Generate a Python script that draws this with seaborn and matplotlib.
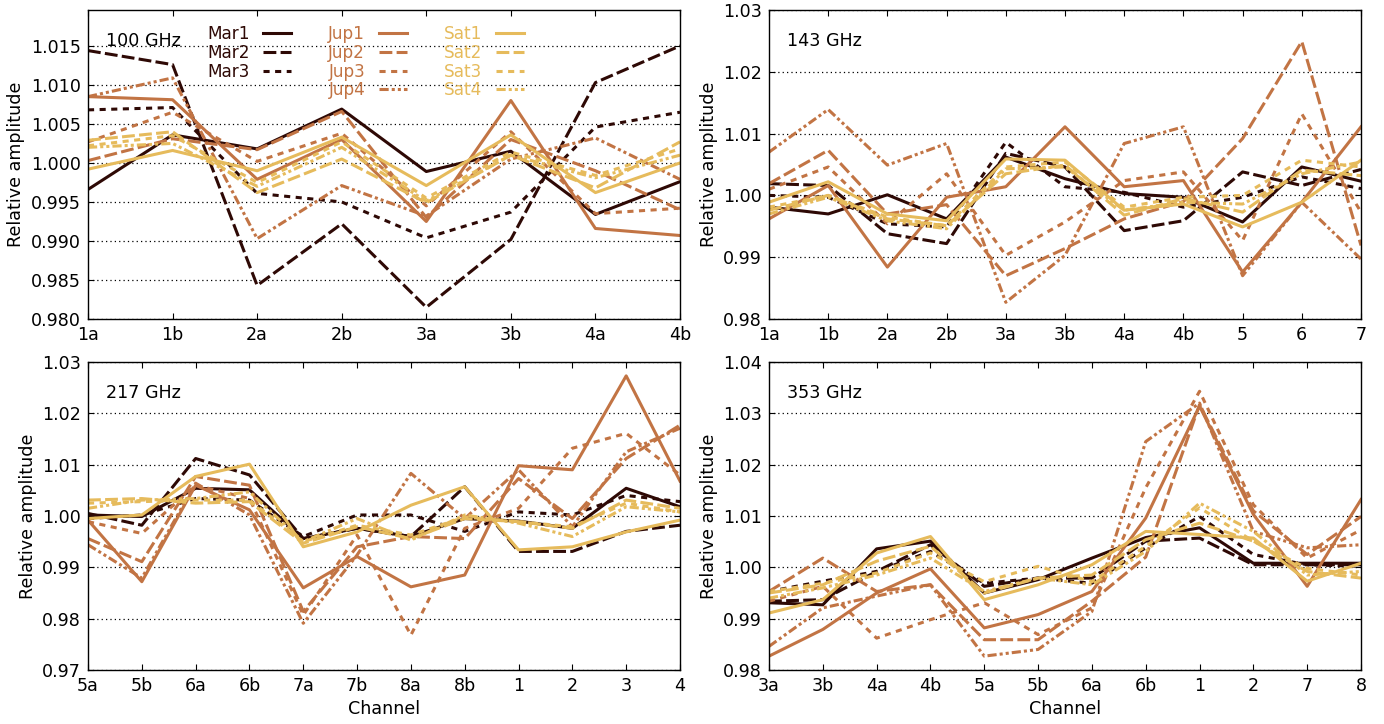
import matplotlib
matplotlib.use("Agg")
import matplotlib.pyplot as plt
from matplotlib.lines import Line2D
import seaborn as sns
import pandas as pd

# ---------------- data ----------------
series_names = ["Mar1", "Mar2", "Mar3", "Jup1", "Jup2", "Jup3", "Jup4",
                "Sat1", "Sat2", "Sat3", "Sat4"]

ch_100 = ["1a", "1b", "2a", "2b", "3a", "3b", "4a", "4b"]
mar1_100 = [0.9966, 1.0036, 1.0018, 1.0069, 0.9989, 1.0015, 0.9934, 0.9976]
mar2_100 = [1.0144, 1.0126, 0.9843, 0.9922, 0.9815, 0.9902, 1.0103, 1.0150]
mar3_100 = [1.0068, 1.0071, 0.9961, 0.9950, 0.9904, 0.9937, 1.0046, 1.0065]
jup1_100 = [1.0085, 1.0081, 0.9979, 1.0030, 0.9925, 1.0080, 0.9916, 0.9907]
jup2_100 = [1.0003, 1.0031, 1.0017, 1.0066, 0.9930, 1.0030, 0.9990, 0.9940]
jup3_100 = [1.0027, 1.0065, 1.0002, 1.0038, 0.9945, 1.0040, 0.9935, 0.9942]
jup4_100 = [1.0085, 1.0109, 0.9903, 0.9971, 0.9932, 1.0005, 1.0032, 0.9979]
sat1_100 = [0.9992, 1.0016, 0.9990, 1.0033, 0.9971, 1.0036, 0.9962, 1.0000]
sat2_100 = [1.0029, 1.0040, 0.9962, 1.0005, 0.9949, 1.0010, 0.9968, 1.0027]
sat3_100 = [1.0022, 1.0035, 0.9975, 1.0027, 0.9955, 1.0014, 0.9984, 1.0018]
sat4_100 = [1.0020, 1.0025, 0.9970, 1.0020, 0.9951, 1.0010, 0.9981, 1.0010]

ch_143 = ["1a", "1b", "2a", "2b", "3a", "3b", "4a", "4b", "5", "6", "7"]
mar1_143 = [0.9981, 0.9970, 1.0001, 0.9962, 1.0062, 1.0027, 1.0003, 0.9997, 0.9957, 1.0046, 1.0023]
mar2_143 = [1.0019, 1.0016, 0.9938, 0.9922, 1.0068, 1.0046, 0.9943, 0.9959, 1.0038, 1.0016, 1.0042]
mar3_143 = [1.0000, 0.9997, 0.9954, 0.9949, 1.0086, 1.0014, 1.0005, 0.9981, 0.9997, 1.0030, 1.0011]
jup1_143 = [0.9962, 1.0016, 0.9884, 0.9997, 1.0014, 1.0111, 1.0014, 1.0024, 0.9876, 0.9989, 1.0111]
jup2_143 = [1.0019, 1.0073, 0.9970, 0.9985, 0.9870, 0.9914, 0.9962, 0.9990, 1.0092, 1.0249, 0.9919]
jup3_143 = [1.0010, 1.0046, 0.9954, 1.0035, 0.9903, 0.9957, 1.0024, 1.0038, 0.9927, 1.0132, 0.9973]
jup4_143 = [1.0070, 1.0139, 1.0049, 1.0084, 0.9827, 0.9903, 1.0084, 1.0111, 0.9870, 0.9989, 0.9897]
sat1_143 = [0.9989, 1.0022, 0.9970, 0.9959, 1.0059, 1.0057, 0.9976, 0.9986, 0.9949, 0.9989, 1.0057]
sat2_143 = [0.9976, 1.0000, 0.9962, 0.9951, 1.0035, 1.0049, 0.9968, 0.9995, 0.9973, 1.0041, 1.0032]
sat3_143 = [0.9981, 1.0000, 0.9965, 0.9951, 1.0046, 1.0054, 0.9981, 0.9997, 1.0000, 1.0057, 1.0046]
sat4_143 = [0.9970, 0.9997, 0.9959, 0.9946, 1.0043, 1.0046, 0.9976, 0.9989, 0.9986, 1.0035, 1.0054]

ch_217 = ["5a", "5b", "6a", "6b", "7a", "7b", "8a", "8b", "1", "2", "3", "4"]
mar1_217 = [1.0002, 0.9999, 1.0054, 1.0051, 0.9956, 0.9976, 0.9960, 0.9995, 0.9990, 0.9976, 1.0054, 1.0018]
mar2_217 = [1.0005, 0.9982, 1.0112, 1.0080, 0.9956, 0.9976, 0.9960, 1.0057, 0.9931, 0.9931, 0.9970, 0.9982]
mar3_217 = [0.9995, 1.0002, 1.0034, 1.0031, 0.9960, 1.0002, 1.0002, 0.9970, 1.0008, 1.0002, 1.0040, 1.0028]
jup1_217 = [0.9992, 0.9872, 1.0060, 1.0012, 0.9860, 0.9921, 0.9862, 0.9885, 1.0098, 1.0090, 1.0273, 1.0068]
jup2_217 = [0.9956, 0.9911, 1.0077, 1.0060, 0.9814, 0.9940, 0.9960, 0.9956, 1.0073, 0.9995, 1.0112, 1.0177]
jup3_217 = [0.9989, 0.9966, 1.0060, 1.0034, 0.9807, 0.9963, 0.9768, 0.9976, 1.0015, 1.0132, 1.0161, 1.0080]
jup4_217 = [0.9944, 0.9879, 1.0064, 1.0002, 0.9791, 0.9924, 1.0083, 0.9995, 1.0090, 0.9979, 1.0125, 1.0171]
sat1_217 = [0.9995, 1.0002, 1.0077, 1.0101, 0.9940, 0.9969, 1.0021, 1.0057, 0.9934, 0.9940, 0.9969, 0.9992]
sat2_217 = [1.0031, 1.0034, 1.0025, 1.0028, 0.9947, 0.9979, 0.9956, 0.9995, 0.9989, 0.9976, 1.0031, 1.0015]
sat3_217 = [1.0025, 1.0028, 1.0031, 1.0031, 0.9950, 0.9982, 0.9963, 0.9998, 0.9989, 0.9979, 1.0025, 1.0008]
sat4_217 = [1.0015, 1.0031, 1.0034, 1.0047, 0.9950, 0.9995, 0.9953, 1.0002, 0.9986, 0.9960, 1.0018, 1.0008]

ch_353 = ["3a", "3b", "4a", "4b", "5a", "5b", "6a", "6b", "1", "2", "7", "8"]
mar1_353 = [0.9931, 0.9927, 1.0036, 1.0051, 0.9950, 0.9976, 1.0018, 1.0058, 1.0077, 1.0008, 1.0008, 1.0008]
mar2_353 = [0.9934, 0.9937, 0.9992, 1.0044, 0.9963, 0.9979, 0.9979, 1.0051, 1.0057, 1.0005, 1.0005, 1.0005]
mar3_353 = [0.9953, 0.9973, 0.9992, 1.0031, 0.9969, 0.9979, 0.9969, 1.0038, 1.0099, 1.0025, 1.0005, 1.0002]
jup1_353 = [0.9827, 0.9879, 0.9950, 0.9997, 0.9882, 0.9908, 0.9953, 1.0096, 1.0314, 1.0103, 0.9963, 1.0132]
jup2_353 = [0.9953, 1.0018, 0.9953, 0.9966, 0.9859, 0.9859, 0.9934, 1.0020, 1.0317, 1.0110, 1.0025, 1.0099]
jup3_353 = [0.9934, 0.9963, 0.9862, 0.9898, 0.9931, 0.9869, 0.9921, 1.0155, 1.0343, 1.0122, 1.0018, 1.0073]
jup4_353 = [0.9846, 0.9921, 0.9944, 0.9966, 0.9827, 0.9840, 0.9914, 1.0245, 1.0320, 1.0070, 1.0038, 1.0044]
sat1_353 = [0.9911, 0.9937, 1.0028, 1.0060, 0.9937, 0.9966, 1.0005, 1.0070, 1.0064, 1.0057, 0.9973, 1.0008]
sat2_353 = [0.9950, 0.9966, 1.0012, 1.0041, 0.9950, 0.9979, 0.9985, 1.0054, 1.0086, 1.0051, 0.9992, 0.9979]
sat3_353 = [0.9953, 0.9969, 0.9989, 1.0028, 0.9972, 1.0002, 0.9972, 1.0041, 1.0116, 1.0051, 0.9998, 0.9985]
sat4_353 = [0.9940, 0.9960, 0.9985, 1.0018, 0.9953, 0.9979, 0.9966, 1.0031, 1.0125, 1.0070, 0.9985, 0.9992]

panel_labels = ["100 GHz", "143 GHz", "217 GHz", "353 GHz"]
ylims = [(0.980, 1.0196), (0.98, 1.03), (0.97, 1.03), (0.98, 1.04)]
yticks = [[0.980, 0.985, 0.990, 0.995, 1.000, 1.005, 1.010, 1.015],
          [0.98, 0.99, 1.00, 1.01, 1.02, 1.03],
          [0.97, 0.98, 0.99, 1.00, 1.01, 1.02, 1.03],
          [0.98, 0.99, 1.00, 1.01, 1.02, 1.03, 1.04]]
ytick_fmt = ["{:.3f}", "{:.2f}", "{:.2f}", "{:.2f}"]

# ---------------- styles ----------------
C_MAR, C_JUP, C_SAT = "#2e0905", "#c27444", "#e6bb5c"
palette = {"Mar1": C_MAR, "Mar2": C_MAR, "Mar3": C_MAR,
           "Jup1": C_JUP, "Jup2": C_JUP, "Jup3": C_JUP, "Jup4": C_JUP,
           "Sat1": C_SAT, "Sat2": C_SAT, "Sat3": C_SAT, "Sat4": C_SAT}
D_SOLID, D_LONG, D_SHORT, D_DDOT = "", (4.2, 1.4), (2.0, 1.8), (3.0, 1.0, 1.0, 1.0, 1.0, 1.0)
dashes = {"Mar1": D_SOLID, "Mar2": D_LONG, "Mar3": D_SHORT,
          "Jup1": D_SOLID, "Jup2": D_LONG, "Jup3": D_SHORT, "Jup4": D_DDOT,
          "Sat1": D_SOLID, "Sat2": D_LONG, "Sat3": D_SHORT, "Sat4": D_DDOT}

panels = [
    (ch_100, [mar1_100, mar2_100, mar3_100, jup1_100, jup2_100, jup3_100, jup4_100,
              sat1_100, sat2_100, sat3_100, sat4_100]),
    (ch_143, [mar1_143, mar2_143, mar3_143, jup1_143, jup2_143, jup3_143, jup4_143,
              sat1_143, sat2_143, sat3_143, sat4_143]),
    (ch_217, [mar1_217, mar2_217, mar3_217, jup1_217, jup2_217, jup3_217, jup4_217,
              sat1_217, sat2_217, sat3_217, sat4_217]),
    (ch_353, [mar1_353, mar2_353, mar3_353, jup1_353, jup2_353, jup3_353, jup4_353,
              sat1_353, sat2_353, sat3_353, sat4_353]),
]

FS = 12.6
plt.rcParams.update({
    "font.family": ["DejaVu Sans"],
    "font.size": FS,
    "axes.linewidth": 1.0,
    "xtick.direction": "in", "ytick.direction": "in",
    "xtick.top": True, "ytick.right": True,
    "xtick.major.size": 4, "ytick.major.size": 4,
    "xtick.major.pad": 5, "ytick.major.pad": 5,
})

fig = plt.figure(figsize=(13.84, 7.24), dpi=100)
W, H = 1384, 724
boxes = [(88, 10, 680, 319), (769, 10, 1361, 319),
         (88, 362, 680, 670), (769, 362, 1361, 670)]
LW = 2.2

for i, ((chs, vals), (x0, y0, x1, y1)) in enumerate(zip(panels, boxes)):
    ax = fig.add_axes([x0 / W, 1 - y1 / H, (x1 - x0) / W, (y1 - y0) / H])
    rows = []
    for name, v in zip(series_names, vals):
        for k, val in enumerate(v):
            rows.append({"pos": k, "value": val, "series": name})
    df = pd.DataFrame(rows)
    sns.lineplot(data=df, x="pos", y="value", hue="series", style="series",
                 hue_order=series_names, style_order=series_names,
                 palette=palette, dashes=dashes, estimator=None, sort=False,
                 legend=False, linewidth=LW, ax=ax)
    ax.set_xlim(0, len(chs) - 1)
    ax.set_xticks(range(len(chs)))
    ax.set_xticklabels(chs)
    ax.set_ylim(*ylims[i])
    ax.set_yticks(yticks[i])
    ax.set_yticklabels([ytick_fmt[i].format(t) for t in yticks[i]])
    ax.yaxis.grid(True, linestyle=(0, (1, 2.5)), color="black", linewidth=0.9)
    ax.xaxis.grid(False)
    ax.set_ylabel("Relative amplitude", fontsize=FS)
    ax.set_xlabel("Channel" if i >= 2 else "", fontsize=FS)
    ax.annotate(panel_labels[i], xy=(0, 1), xycoords="axes fraction",
                xytext=(13, -22.5), textcoords="offset points",
                ha="left", va="center", fontsize=FS)
    for s in ax.spines.values():
        s.set_color("black")

    if i == 0:
        handles, labels = [], []
        for name in series_names[:3]:
            handles.append(Line2D([], [], color=palette[name], lw=LW,
                                  dashes=dashes[name] if dashes[name] else (None, None)))
            labels.append(name)
        handles.append(Line2D([], [], color="none", lw=0))
        labels.append("")
        for name in series_names[3:]:
            handles.append(Line2D([], [], color=palette[name], lw=LW,
                                  dashes=dashes[name] if dashes[name] else (None, None)))
            labels.append(name)
        for h, n in zip(handles, labels):
            if n in ("Mar1", "Jup1", "Sat1"):
                h.set_linestyle("-")
        leg = ax.legend(handles, labels, ncol=3, loc="upper left",
                        bbox_to_anchor=((207 - 88) / 592, 0.952),
                        frameon=False, markerfirst=False, fontsize=12.2,
                        handlelength=1.65, handletextpad=0.8,
                        columnspacing=2.2, labelspacing=0.05,
                        borderpad=0, borderaxespad=0)
        for t, n in zip(leg.get_texts(), labels):
            if n:
                t.set_color(palette[n])

fig.savefig("out.png", dpi=100)
